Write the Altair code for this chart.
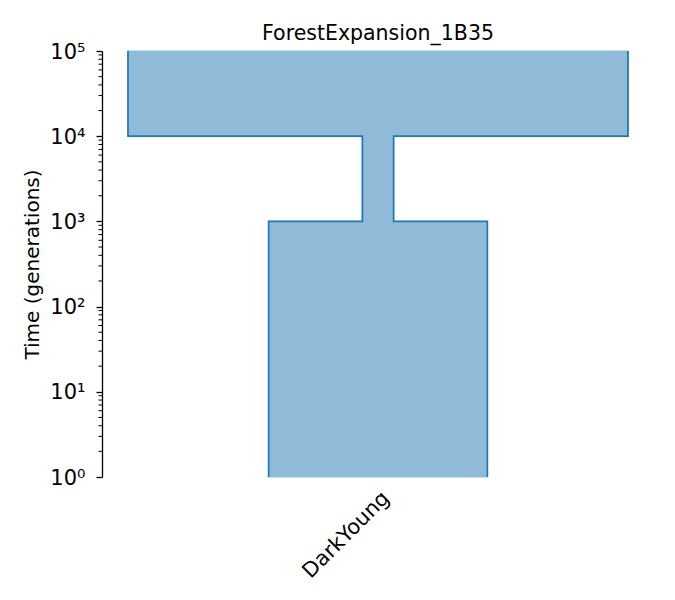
import altair as alt
import pandas as pd

# ---- data ----
deme_name = "DarkYoung"
title_text = "ForestExpansion_1B35"
epoch_start = [100000, 10000, 1000]   # top epoch clipped at the axis top
epoch_end = [10000, 1000, 1]          # bottom epoch clipped at the axis bottom
epoch_size = [8000, 500, 3500]
major_ticks = [1, 10, 100, 1000, 10000, 100000]
minor_ticks = [k * 10 ** d for d in range(5) for k in range(2, 10)]

# ---- build tables ----
rect_df = pd.DataFrame({
    "start": epoch_start,
    "end": epoch_end,
    "lo": [-n / 2 for n in epoch_size],
    "hi": [n / 2 for n in epoch_size],
})

line_rows = []
seq = 0
for s, e, n in zip(epoch_start, epoch_end, epoch_size):
    for t in (s, e):
        line_rows.append({"t": t, "x": -n / 2, "side": "L", "seq": seq})
        line_rows.append({"t": t, "x": n / 2, "side": "R", "seq": seq})
        seq += 1
line_df = pd.DataFrame(line_rows)
minor_df = pd.DataFrame({"t": minor_ticks})

xscale = alt.Scale(domain=[-4416, 4416], nice=False, zero=False)
yscale = alt.Scale(type="log", domain=[1, 100000], nice=False)

yaxis = alt.Axis(
    values=major_ticks,
    labelExpr="'10' + ['⁰','¹','²','³','⁴','⁵'][round(log(datum.value)/LN10)]",
    title="Time (generations)",
    grid=False,
    tickSize=6,
    tickWidth=1.3,
    tickColor="black",
    domainColor="black",
    domainWidth=1.3,
    labelPadding=11,
    labelFontSize=21,
    labelColor="black",
    labelBaseline="middle",
    labelOffset=1,
    titleFontSize=20,
    titleFontWeight="normal",
    titleColor="black",
    titleX=-70,
    titleY=213,
    titleAngle=270,
    titleAlign="center",
    titleBaseline="middle",
)
xaxis = alt.Axis(
    values=[0],
    labelExpr=f"'{deme_name}'",
    grid=False,
    ticks=False,
    domain=False,
    labelAngle=315,
    labelAlign="right",
    labelBaseline="top",
    labelPadding=10,
    labelFontSize=21,
    labelColor="black",
)

fill = alt.Chart(rect_df).mark_rect(
    color="#8fbbd9", stroke="#8fbbd9", strokeWidth=1, opacity=1
).encode(
    y=alt.Y("end:Q", scale=yscale, axis=yaxis),
    y2="start:Q",
    x=alt.X("lo:Q", scale=xscale, axis=xaxis, title=None),
    x2="hi:Q",
)

outline = alt.Chart(line_df).mark_line(color="#1f77b4", strokeWidth=1.7).encode(
    y=alt.Y("t:Q", scale=yscale),
    x=alt.X("x:Q", scale=xscale),
    detail="side:N",
    order="seq:Q",
)

minor = alt.Chart(minor_df).mark_rule(color="black", strokeWidth=1).encode(
    y=alt.Y("t:Q", scale=yscale),
    x=alt.value(-3.5),
    x2=alt.value(0),
)

chart = alt.layer(fill, outline, minor).properties(
    width=552,
    height=426,
    title=alt.TitleParams(title_text, fontSize=20.5, fontWeight="normal",
                          color="black", anchor="middle", offset=-3,
                          frame="group"),
    autosize=alt.AutoSizeParams(type="none"),
    padding={"left": 94, "top": 43, "right": 10, "bottom": 120},
).configure(font="DejaVu Sans").configure_view(stroke=None)

chart.save("out.html", embed_options={"renderer": "svg", "actions": False})
